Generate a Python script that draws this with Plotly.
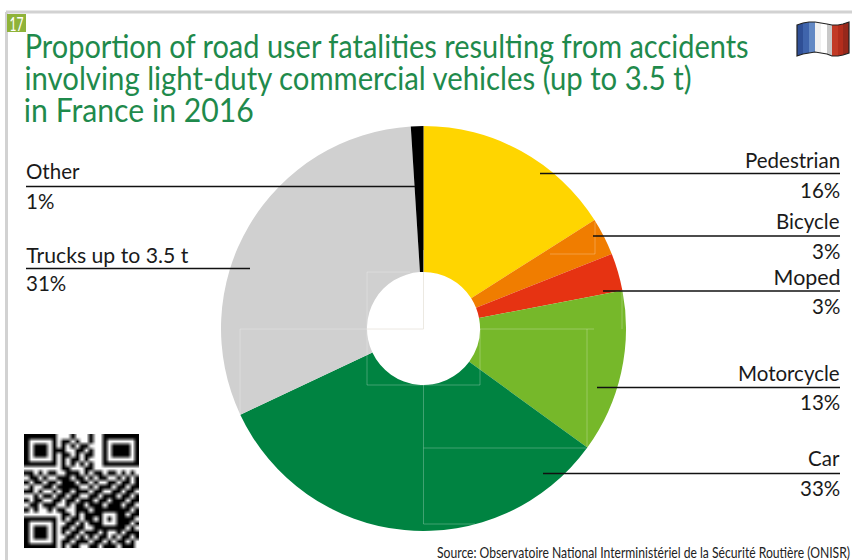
import json
import plotly.graph_objects as go

W, H = 852, 560

# data
categories = ['Pedestrian', 'Bicycle', 'Moped', 'Motorcycle', 'Car', 'Trucks up to 3.5 t', 'Other']
shares = [16, 3, 3, 13, 33, 31, 1]
colors = ['#ffd500', '#f07d00', '#e63312', '#76b82a', '#008341', '#d0d0d0', '#000000']

title_lines = ['Proportion of road user fatalities resulting from accidents',
               'involving light-duty commercial vehicles (up to 3.5 t)',
               'in France in 2016']
source = 'Source: Observatoire National Interministériel de la Sécurité Routière (ONISR)'

# QR code modules
qr_rows = [
    '1111111000100010011111111',
    '1000001011010010010000001',
    '1011101010101100010111101',
    '1011101110011010010111101',
    '1011101011010110010111101',
    '1000001010110100010000001',
    '1111111010101010011111111',
    '0000000011000110000000000',
    '1101011001110101101101010',
    '0110100111011010110010101',
    '1011011011101101001101101',
    '0100110111110010111011011',
    '1101001011011101100110110',
    '0010110110110011011101101',
    '1011001101101110110111011',
    '0110111001011011101110110',
    '1010010110011101111111101',
    '0000000011010111100011011',
    '1111111010110110101011110',
    '1000001001101011100011101',
    '1011101011011001111111010',
    '1011101010110111010010111',
    '1011101001101010110101101',
    '1000001011011101101011010',
    '1111111010110011011101110',
]
qr_z = [[int(c) for c in row] for row in qr_rows]

fig = go.Figure()

fig.add_trace(go.Pie(labels=categories, values=shares, sort=False, direction='clockwise',
                     rotation=0, hole=0.279, textinfo='none', showlegend=False,
                     marker=dict(colors=colors, line=dict(width=0)),
                     domain=dict(x=[221 / W, 626 / W], y=[1 - 531 / H, 1 - 126 / H])))

fig.add_trace(go.Heatmap(z=qr_z, x0=26.3, dx=4.6, y0=436.3, dy=4.56, showscale=False,
                         colorscale=[[0, '#ffffff'], [1, '#000000']], zmin=0, zmax=1,
                         zsmooth='best'))

shapes = []


def line(x0, y0, x1, y1, color='#111111', width=1.5, opacity=1):
    shapes.append(dict(type='line', x0=x0, y0=y0, x1=x1, y1=y1, layer='above', opacity=opacity,
                       line=dict(color=color, width=width)))


# page frame
line(6, 12, W, 12, '#d2d2d2', 3)
line(6.5, 12, 6.5, H, '#d2d2d2', 3)
shapes.append(dict(type='rect', x0=7, y0=14, x1=26, y1=32, fillcolor='#8fb339', line=dict(width=0), layer='above'))

# faint artefact lines in the pie
for seg in [(423.5, 250, 423.5, 272), (240, 329, 367, 329), (480, 329, 594, 329), (240, 329, 240, 415),
            (367, 272, 367, 385), (367, 272, 410, 272), (423.5, 385, 480, 385), (367, 385, 423.5, 385),
            (423.5, 385, 423.5, 524), (423.5, 448, 586, 448), (587, 329, 587, 447), (480, 329, 480, 385),
            (423.5, 524, 475, 524), (622, 329, 622, 290), (595, 222, 595, 254), (550, 254, 595, 254)]:
    line(*seg, color='#ffffff', width=1, opacity=0.25)
for seg in [(423.5, 272, 423.5, 329), (367, 329, 423.5, 329)]:
    line(*seg, color='#e8e4dc', width=1, opacity=0.8)

# leader lines
for seg in [(26, 186.5, 415, 186.5), (26, 268.5, 250, 268.5), (540, 173.5, 840, 173.5), (593, 236, 840, 236),
            (603, 291, 840, 291), (597, 387.5, 840, 387.5), (543, 473.5, 840, 473.5)]:
    line(*seg)

# flag, wavy stripes
flag_stripes = ['#2f4f96', '#3f64ac', '#6288c4', '#f0f0f0', '#ffffff', '#c9c9c9', '#c23a26', '#b32d1c', '#96281b']
flag_x = [797, 803, 809, 815, 821, 827, 832, 838, 843, 849]
flag_top = [25, 23, 22, 22, 23, 24, 25, 25, 24, 22]
flag_bottom = [56, 54, 53, 52, 53, 54, 56, 56, 55, 53]
for i, c in enumerate(flag_stripes):
    shapes.append(dict(type='path', layer='above', fillcolor=c, line=dict(width=0),
                       path=f'M {flag_x[i]} {flag_top[i]} L {flag_x[i + 1]} {flag_top[i + 1]} '
                            f'L {flag_x[i + 1]} {flag_bottom[i + 1]} L {flag_x[i]} {flag_bottom[i]} Z'))
outline = ' L '.join(f'{x} {y}' for x, y in zip(flag_x, flag_top))
outline += ' L ' + ' L '.join(f'{x} {y}' for x, y in zip(flag_x[::-1], flag_bottom[::-1]))
shapes.append(dict(type='path', layer='above', line=dict(color='#222222', width=1.2), path=f'M {outline} Z'))

annotations = []


def label(x, y, text, anchor='left', size=20.5, color='#1a1a1a', family='Lato', **box):
    annotations.append(dict(x=x, y=y, text=text, xref='x', yref='y', xanchor=anchor, yanchor='middle',
                            showarrow=False, borderpad=0, borderwidth=0,
                            font=dict(family=family, size=size, color=color), **box))


# condensed texts: text -> width in the picture, centred on the middle of that width
title_spans = [(24, 748), (24, 691), (24, 254)]
squeeze = {}
for y, t, (xa, xb) in zip([45, 77, 109], title_lines, title_spans):
    label((xa + xb) / 2, y, t, 'center', size=32, color='#1f8a4c')
    squeeze[t] = xb - xa
label(16.5, 23, '17', 'center', size=20, color='#ffffff', width=19, height=18)
squeeze['17'] = 14

pcts = [f'{v}%' for v in shares]
right_y = [(160, 190), (221, 251), (277, 306), (373, 402), (458, 488)]
for i, (ya, yb) in enumerate(right_y):
    if categories[i] == 'Moped':
        label(806.5, ya, categories[i], 'center')
        squeeze[categories[i]] = 67
    else:
        label(840, ya, categories[i], 'right')
    label(840, yb, pcts[i], 'right')
label(26, 171, categories[6])
label(26, 201, pcts[6])
label(107, 255, categories[5], 'center')
squeeze[categories[5]] = 162
label(26, 283, pcts[5])
label(643.5, 551, source, 'center', size=16, color='#222222', width=415)
squeeze[source] = 413

fig.update_layout(width=W, height=H, autosize=False, margin=dict(l=0, r=0, t=0, b=0),
                  paper_bgcolor='white', plot_bgcolor='rgba(0,0,0,0)',
                  shapes=shapes, annotations=annotations,
                  xaxis=dict(range=[0, W], visible=False, fixedrange=True),
                  yaxis=dict(range=[H, 0], visible=False, fixedrange=True))

# page margin off, condensed lines squeezed to their width
post = """
document.body.style.margin = '0';
var squeeze = %s;
document.querySelectorAll('.annotation-text').forEach(function (t) {
  var w = squeeze[t.textContent];
  if (w) {
    t.setAttribute('textLength', w);
    t.setAttribute('lengthAdjust', 'spacingAndGlyphs');
  }
});
""" % json.dumps(squeeze)
fig.write_html("out.html", post_script=post, config={'displayModeBar': False})
